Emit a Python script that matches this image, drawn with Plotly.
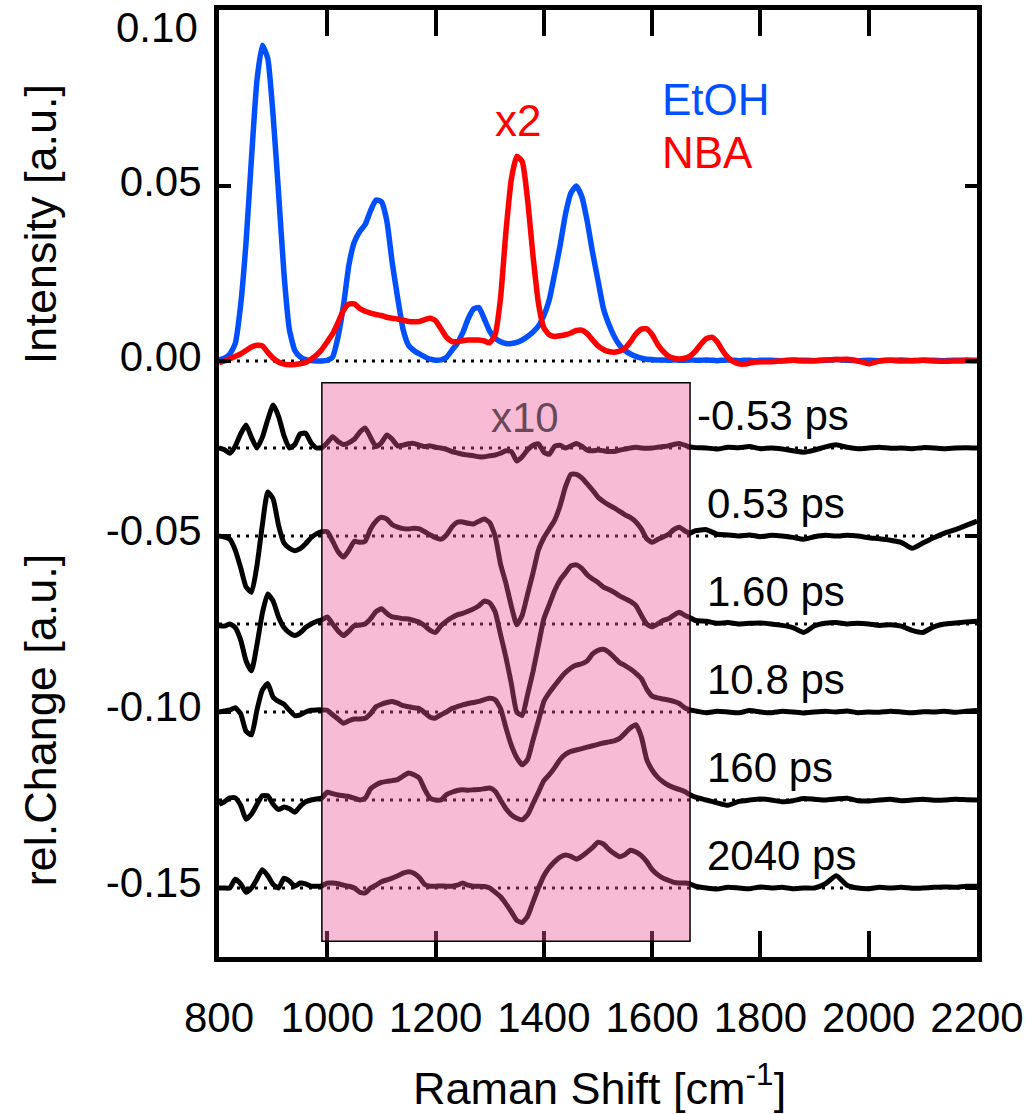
import plotly.graph_objects as go

# ---------------- data ----------------
TOP_X = list(range(800, 1810, 10)) + list(range(1820, 2201, 20))

ETOH = [
    0.0003, 0.0008, 0.002, 0.005, 0.016, 0.034, 0.058, 0.080, 0.0902, 0.0865,
    0.070, 0.048, 0.025, 0.009, 0.003, 0.0012, 0.0004, 0.0001, 0.0, 0.0,
    0.0002, 0.0012, 0.007, 0.016, 0.0275, 0.034, 0.037, 0.039, 0.043, 0.046,
    0.0455, 0.040, 0.028, 0.018, 0.009, 0.0045, 0.003, 0.002, 0.0012, 0.0005,
    0.0002, 0.0003, 0.001, 0.003, 0.005, 0.008, 0.012, 0.0148, 0.0153, 0.012,
    0.0085, 0.0065, 0.0055, 0.005, 0.005, 0.0053, 0.006, 0.007, 0.0083, 0.010,
    0.013, 0.0175, 0.025, 0.033, 0.042, 0.048, 0.050, 0.047, 0.040, 0.031,
    0.023, 0.015, 0.0105, 0.007, 0.0045, 0.003, 0.002, 0.0013, 0.0008, 0.0005,
    0.0004, 0.0003, 0.0003, 0.0002, 0.0003, 0.0002, 0.0002, 0.0003, 0.0002, 0.0002,
    0.0003, 0.0002, 0.0001, 0.0002, 0.0003, 0.0002, 0.0001, 0.0002, 0.0002, 0.0001,
    0.0002,
    0.0002, 0.0001, 0.0003, 0.0002, 0.0001, 0.0002, 0.0004, 0.0002, 0.0001, 0.0002,
    0.0001, 0.0002, 0.0003, 0.0001, 0.0002, 0.0002, 0.0001, 0.0002, 0.0003, 0.0002,
]

NBA_X2 = [
    -0.0005, 0.0, 0.0006, 0.0013, 0.002, 0.003, 0.004, 0.0045, 0.0043, 0.0025,
    0.0008, -0.0003, -0.0009, -0.0011, -0.001, -0.0008, -0.0004, 0.0005, 0.0017, 0.0033,
    0.0055, 0.0078, 0.011, 0.0145, 0.0163, 0.0163, 0.015, 0.0142, 0.0137, 0.0133,
    0.013, 0.0125, 0.0122, 0.012, 0.0117, 0.0113, 0.0112, 0.0113, 0.0118, 0.0122,
    0.0115, 0.0092, 0.0068, 0.0056, 0.0055, 0.0058, 0.006, 0.006, 0.006, 0.0057,
    0.0052, 0.0075, 0.018, 0.037, 0.052, 0.0585, 0.057, 0.046, 0.030, 0.0165,
    0.0095, 0.0075, 0.007, 0.0072, 0.0075, 0.008, 0.0087, 0.0088, 0.0078, 0.006,
    0.0043, 0.0033, 0.0027, 0.0025, 0.0028, 0.0037, 0.0055, 0.0077, 0.0091, 0.0092,
    0.0075, 0.0048, 0.0028, 0.0014, 0.0008, 0.0006, 0.0008, 0.0014, 0.0028, 0.0048,
    0.0064, 0.0068, 0.0055, 0.003, 0.001, -0.0002, -0.0008, -0.0009, -0.0006, -0.0003,
    -0.0002,
    -0.0002, 0.0, 0.0002, 0.0, 0.0001, 0.0003, 0.0004, 0.0005, 0.0, -0.0008,
    0.0, 0.0002, 0.0, 0.0001, 0.0002, 0.0, -0.0001, 0.0, 0.0001, 0.0,
]

LOW_X = list(range(800, 1690, 10)) + list(range(1700, 2201, 20))

DELAYS = ["-0.53 ps", "0.53 ps", "1.60 ps", "10.8 ps", "160 ps", "2040 ps"]
OFFSETS = [-0.025, -0.05, -0.075, -0.10, -0.125, -0.15]

# deviations from each offset as displayed (x10 inside the shaded box)
D_M053 = [
    0.0, -0.0005, -0.0015, 0.0005, 0.004, 0.0065, 0.003, 0.0, 0.003, 0.008,
    0.0122, 0.009, 0.0035, 0.0, 0.001, 0.004, 0.0042, 0.0015, 0.0, 0.0001,
    0.0015, 0.0032, 0.0018, 0.001, 0.0015, 0.0025, 0.0045, 0.0057, 0.003, 0.0004,
    0.0015, 0.0037, 0.0025, 0.0006, 0.0008, 0.0012, 0.0013, 0.0008, 0.0004, 0.0006,
    0.0002, 0.0, -0.0004, -0.001, -0.0014, -0.0018, -0.002, -0.0022, -0.0025, -0.0025,
    -0.0022, -0.002, -0.0015, -0.0008, -0.001, -0.0037, -0.0025, -0.0005, 0.0008, 0.0012,
    -0.0012, -0.0018, 0.0005, 0.0008, 0.0, 0.0006, 0.0013, 0.0005, -0.0006, -0.0008,
    -0.0006, -0.0008, -0.001, -0.001, -0.0006, -0.0003, 0.0, 0.0002, 0.0, -0.0001,
    0.0, 0.0002, 0.0004, 0.0006, 0.001, 0.0013, 0.0008, 0.0003, 0.0001,
    0.0, -0.0003, 0.0002, 0.0001, 0.0004, -0.0002, 0.0, -0.0003, -0.0008, -0.0012,
    -0.0006, 0.0003, 0.0009, 0.0002, -0.0002, 0.0, 0.0002, -0.0001, 0.0, -0.0002,
    0.0001, 0.0, -0.0002, 0.0, 0.0001, 0.0,
]
D_053 = [
    0.0, -0.0003, -0.0009, -0.004, -0.009, -0.0145, -0.016, -0.0085, 0.003, 0.0125,
    0.0105, 0.003, -0.002, -0.0035, -0.0042, -0.0036, -0.0022, -0.0005, 0.0006, 0.0012,
    0.0012, -0.0015, -0.0045, -0.006, -0.004, -0.0015, -0.0018, -0.0015, 0.002, 0.0042,
    0.0053, 0.0048, 0.0032, 0.0025, 0.0021, 0.002, 0.0022, 0.002, 0.0012, 0.0003,
    -0.0005, -0.0009, 0.0003, 0.0025, 0.0039, 0.004, 0.0036, 0.0034, 0.0042, 0.0048,
    0.0038, 0.0, -0.008, -0.0135, -0.020, -0.0252, -0.0225, -0.0165, -0.0105, -0.004,
    -0.0005, 0.002, 0.0045, 0.0086, 0.014, 0.0175, 0.0175, 0.0165, 0.0148, 0.013,
    0.011, 0.0098, 0.0088, 0.008, 0.007, 0.006, 0.0052, 0.004, 0.002, -0.0008,
    -0.0018, -0.001, -0.0003, 0.0005, 0.0018, 0.0025, 0.0015, 0.0008, 0.0015,
    0.0018, 0.0005, 0.0003, 0.0, 0.0003, -0.0002, 0.0002, 0.0, -0.0004, -0.0009,
    -0.0002, 0.0002, 0.0, 0.0002, 0.0, -0.0005, -0.0008, -0.0012, -0.0018, -0.0035,
    -0.002, -0.0005, 0.0008, 0.0018, 0.003, 0.0042,
]
D_160 = [
    -0.0005, -0.0006, 0.0, -0.001, -0.0045, -0.0105, -0.0133, -0.006, 0.003, 0.0085,
    0.0065, 0.002, -0.001, -0.0025, -0.0033, -0.0025, -0.001, 0.0, 0.0007, 0.0012,
    0.002, 0.0, -0.002, -0.0033, -0.002, -0.0005, -0.0003, 0.0, 0.0015, 0.0035,
    0.0043, 0.003, 0.002, 0.0018, 0.0015, 0.0014, 0.001, 0.0005, -0.0005, -0.0018,
    -0.0024, -0.0005, 0.0008, 0.0018, 0.0026, 0.003, 0.0036, 0.0043, 0.0052, 0.0065,
    0.006, 0.0035, -0.003, -0.0095, -0.017, -0.025, -0.026, -0.020, -0.0135, -0.006,
    0.0015, 0.0055, 0.0095, 0.0125, 0.0145, 0.0165, 0.0168, 0.0158, 0.014, 0.0128,
    0.0118, 0.0105, 0.0098, 0.009, 0.008, 0.0072, 0.0064, 0.0052, 0.0025, 0.0,
    -0.0008, 0.0, 0.001, 0.0015, 0.0025, 0.0033, 0.0025, 0.0018, 0.001,
    0.0008, 0.0002, 0.0004, 0.0, 0.0002, 0.0003, 0.0, -0.0004, -0.001, -0.0024,
    -0.0005, 0.0002, 0.0004, 0.0, 0.0002, 0.0, -0.0004, -0.0002, -0.0006, -0.0018,
    -0.0024, -0.0008, 0.0, 0.0003, 0.0006, 0.0008,
]
D_108 = [
    0.0, 0.0003, 0.0006, 0.0012, -0.0005, -0.0055, -0.0065, 0.0005, 0.0062, 0.0081,
    0.0042, 0.003, 0.0022, 0.0005, -0.001, -0.0008, 0.0, 0.0005, 0.0006, 0.0006,
    0.0005, -0.0008, -0.002, -0.0032, -0.0025, -0.002, -0.002, -0.0018, -0.0005, 0.0015,
    0.0022, 0.0027, 0.003, 0.0025, 0.0018, 0.0015, 0.0012, 0.001, -0.0002, -0.0015,
    -0.0017, -0.0008, 0.0, 0.001, 0.0015, 0.002, 0.0024, 0.0027, 0.003, 0.0035,
    0.0039, 0.0035, 0.001, -0.0045, -0.0095, -0.013, -0.015, -0.0135, -0.008, -0.0025,
    0.003, 0.0055, 0.0075, 0.0095, 0.0112, 0.0125, 0.0133, 0.0137, 0.0145, 0.0165,
    0.0175, 0.0178, 0.017, 0.0155, 0.014, 0.0132, 0.0122, 0.011, 0.0095, 0.0065,
    0.0045, 0.004, 0.0037, 0.0034, 0.003, 0.0024, 0.0012, 0.0006, 0.0003,
    -0.0002, 0.0002, 0.0, -0.0002, 0.0004, 0.0, -0.0002, 0.0002, 0.0, -0.0003,
    0.0, 0.0002, 0.0, 0.0003, -0.0002, 0.0, -0.0001, 0.0002, 0.0, -0.0002,
    0.0001, 0.0, 0.0002, -0.0001, 0.0002, 0.0004,
]
D_160PS = [
    -0.0012, -0.0005, 0.0006, 0.0006, -0.0015, -0.0055, -0.004, -0.0013, 0.0012, 0.0012,
    -0.0012, -0.0027, -0.002, -0.0025, -0.0035, -0.0018, -0.0005, 0.0, 0.0003, 0.0006,
    0.0022, 0.0018, 0.0014, 0.0012, 0.001, 0.0005, 0.0, 0.0005, 0.0032, 0.0043,
    0.005, 0.0053, 0.0055, 0.0058, 0.0068, 0.0077, 0.0072, 0.0062, 0.003, 0.0005,
    0.0, 0.0, 0.0015, 0.0022, 0.0027, 0.0029, 0.0028, 0.0029, 0.003, 0.0032,
    0.0034, 0.0025, 0.0, -0.0025, -0.0042, -0.0052, -0.0056, -0.0042, -0.001, 0.0022,
    0.0055, 0.0072, 0.0092, 0.0115, 0.013, 0.0138, 0.0142, 0.0146, 0.015, 0.0154,
    0.0158, 0.0162, 0.0165, 0.0168, 0.0175, 0.019, 0.0205, 0.0214, 0.018, 0.0115,
    0.0085, 0.0065, 0.0052, 0.0042, 0.0035, 0.003, 0.0024, 0.0015, 0.0008,
    0.0, -0.0008, -0.0015, -0.0004, 0.0, 0.0003, 0.0, -0.0005, -0.0002, 0.0004,
    0.0002, 0.0, 0.0003, 0.0005, -0.0002, -0.0003, 0.0, 0.0002, -0.0002, 0.0,
    0.0002, -0.0001, 0.0, 0.0002, 0.0001, 0.0,
]
D_2040 = [
    0.0, 0.0, 0.0, 0.0025, 0.0012, -0.0012, 0.0, 0.0025, 0.0052, 0.0035,
    0.001, 0.0, 0.0028, 0.002, 0.0005, 0.0014, 0.0012, 0.0005, 0.0005, 0.0006,
    0.0014, 0.0014, 0.0012, 0.0008, 0.0005, 0.0, -0.0012, -0.0014, 0.0, 0.0008,
    0.0018, 0.0023, 0.0028, 0.0035, 0.0042, 0.0046, 0.0042, 0.003, 0.001, 0.0005,
    0.0005, 0.0006, 0.0005, 0.0005, 0.0008, 0.0014, 0.0008, 0.0005, 0.0005, 0.0004,
    0.0, -0.0012, -0.0025, -0.0045, -0.0068, -0.0092, -0.0098, -0.008, -0.004, 0.0,
    0.0035, 0.0058, 0.0075, 0.0088, 0.0094, 0.009, 0.0082, 0.009, 0.0102, 0.0115,
    0.013, 0.0125, 0.011, 0.0098, 0.0089, 0.0095, 0.0107, 0.0102, 0.0092, 0.0075,
    0.0052, 0.0038, 0.0028, 0.0022, 0.0016, 0.0014, 0.0014, 0.0012, 0.0005,
    0.0, -0.0003, 0.0002, 0.0, -0.0002, 0.0003, 0.0, 0.0002, -0.0002, 0.0,
    0.0, 0.0012, 0.0035, 0.0008, 0.0, -0.0002, 0.0002, 0.0, 0.0002, -0.0001,
    0.0, 0.0002, 0.0003, 0.0002, 0.0005, 0.0005,
]
DEVIATIONS = [D_M053, D_053, D_160, D_108, D_160PS, D_2040]

X_TICKS = [800, 1000, 1200, 1400, 1600, 1800, 2000, 2200]
TOP_TICKS = [0.0, 0.05]
TOP_TICKTEXT = ["0.00", "0.05"]
TOP_LABEL = "0.10"
LOW_TICKS = [-0.05, -0.10, -0.15]
LOW_TICKTEXT = ["-0.05", "-0.10", "-0.15"]

# ---------------- figure ----------------
FONT = "Liberation Sans, Arial, Helvetica, sans-serif"
BLUE = "#0050ff"
RED = "#ff0000"
SPLIT = 0.6146

fig = go.Figure()

# baselines (dotted)
shapes = [dict(type="line", xref="x2", yref="y", x0=800, x1=2200, y0=0, y1=0,
               line=dict(color="black", width=3, dash="3px,6px"), layer="below")]
for off in OFFSETS:
    shapes.append(dict(type="line", xref="x", yref="y2", x0=800, x1=2200, y0=off, y1=off,
                       line=dict(color="black", width=3, dash="3px,6px"), layer="below"))

fig.add_trace(go.Scatter(x=TOP_X, y=ETOH, mode="lines", xaxis="x2", yaxis="y",
                         line=dict(color=BLUE, width=5.5, shape="spline", smoothing=0.5)))
fig.add_trace(go.Scatter(x=TOP_X, y=NBA_X2, mode="lines", xaxis="x2", yaxis="y",
                         line=dict(color=RED, width=5.5, shape="spline", smoothing=0.5)))

for off, dev in zip(OFFSETS, DEVIATIONS):
    n = min(len(LOW_X), len(dev))
    fig.add_trace(go.Scatter(x=LOW_X[:n], y=[off + d for d in dev[:n]], mode="lines",
                             xaxis="x", yaxis="y2",
                             line=dict(color="black", width=5, shape="spline", smoothing=0.5)))

# shaded x10 region
shapes.append(dict(type="rect", xref="x", yref="y2", x0=990, x1=1670, y0=-0.1651, y1=-0.0065,
                   fillcolor="rgba(235,85,150,0.40)", line=dict(color="black", width=1.5),
                   layer="above"))

axis_common = dict(showgrid=False, zeroline=False, showline=True, linecolor="black",
                   linewidth=5, ticks="inside", tickcolor="black",
                   tickfont=dict(family=FONT, size=42, color="black"))

fig.update_layout(
    width=1033, height=1114,
    margin=dict(l=219, r=56, t=10, b=157, pad=0),
    paper_bgcolor="white", plot_bgcolor="white",
    showlegend=False,
    font=dict(family=FONT, color="black"),
    xaxis=dict(domain=[0, 1], anchor="y2", range=[800, 2200], tickvals=X_TICKS,
               ticklen=26, tickwidth=4, tickangle=0, ticklabelstandoff=20, **axis_common),
    xaxis2=dict(domain=[0, 1], anchor="y", matches="x", side="top", range=[800, 2200],
                tickvals=X_TICKS, ticklen=26, tickwidth=4, showticklabels=False, **axis_common),
    yaxis=dict(domain=[SPLIT, 1], anchor="x2", range=[-0.004, 0.1003], tickvals=TOP_TICKS,
               ticktext=TOP_TICKTEXT, ticklen=12, tickwidth=4, mirror="ticks",
               ticklabelstandoff=4, ticklabelshift=-5, **axis_common),
    yaxis2=dict(domain=[0, SPLIT], anchor="x", range=[-0.1696, -0.00426], tickvals=LOW_TICKS,
                ticktext=LOW_TICKTEXT, ticklen=12, tickwidth=4, mirror="ticks",
                ticklabelstandoff=4, ticklabelshift=-6, **axis_common),
    shapes=shapes,
)

ann = []
ann.append(dict(text=TOP_LABEL, xref="paper", yref="paper", x=-0.025, y=(957 - 28) / 947,
                xanchor="right", yanchor="middle", showarrow=False,
                font=dict(family=FONT, size=42, color="black")))
ann.append(dict(text="x2", xref="x2", yref="y", x=1352, y=0.0688, showarrow=False,
                xanchor="center", yanchor="middle",
                font=dict(family=FONT, size=44, color=RED)))
ann.append(dict(text="EtOH", xref="x2", yref="y", x=1614, y=0.0747, xanchor="left",
                yanchor="middle", showarrow=False, font=dict(family=FONT, size=44, color=BLUE)))
ann.append(dict(text="NBA", xref="x2", yref="y", x=1614, y=0.0597, xanchor="left",
                yanchor="middle", showarrow=False, font=dict(family=FONT, size=44, color=RED)))
ann.append(dict(text="x10", xref="x", yref="y2", x=1365, y=-0.0162, showarrow=False,
                xanchor="center", yanchor="middle",
                font=dict(family=FONT, size=42, color="#6a4858")))
for lab, off in zip(DELAYS, OFFSETS):
    xl = 1679 if lab.startswith("-") else 1697
    ann.append(dict(text=lab, xref="x", yref="y2", x=xl, y=off + 0.0092, xanchor="left",
                    yanchor="middle", showarrow=False,
                    font=dict(family=FONT, size=42, color="black")))
ann.append(dict(text="Intensity [a.u.]", xref="paper", yref="paper", x=-0.236, y=0.774,
                xanchor="center", yanchor="middle", textangle=-90, showarrow=False,
                font=dict(family=FONT, size=45, color="black")))
ann.append(dict(text="rel.Change [a.u.]", xref="paper", yref="paper", x=-0.236, y=0.25,
                xanchor="center", yanchor="middle", textangle=-90, showarrow=False,
                font=dict(family=FONT, size=45, color="black")))
ann.append(dict(text="Raman Shift [cm<sup>-1</sup>]", xref="paper", yref="paper", x=0.502,
                y=-0.135, xanchor="center", yanchor="middle", showarrow=False,
                font=dict(family=FONT, size=45, color="black")))
fig.update_layout(annotations=ann)

fig.write_html("out.html")
